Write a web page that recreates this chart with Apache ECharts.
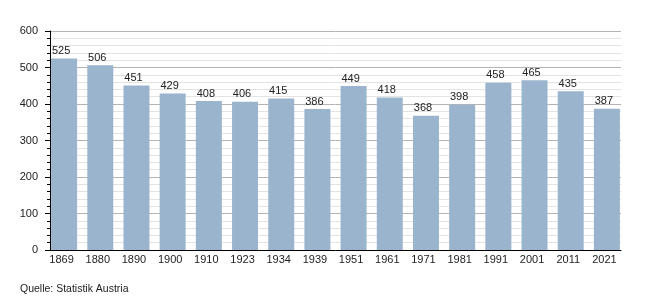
<!DOCTYPE html>
<html><head><meta charset="utf-8">
<script src="https://cdn.jsdelivr.net/npm/echarts@6/dist/echarts.min.js"></script>
<style>html,body{margin:0;padding:0;background:#fff}#c{width:650px;height:300px}</style>
</head><body><div id="c"></div>
<script>
const years = ['1869','1880','1890','1900','1910','1923','1934','1939','1951','1961','1971','1981','1991','2001','2011','2021'];
const values = [525,506,451,429,408,406,415,386,449,418,368,398,458,465,435,387];
const sourceText = 'Quelle: Statistik Austria';
const FONT = 'Liberation Sans, Arial, sans-serif';
const chart = echarts.init(document.getElementById('c'), null, {renderer:'canvas'});
chart.setOption({
  animation:false,
  textStyle:{fontFamily:FONT},
  grid:[
    {left:46,right:25,top:31,bottom:50},
    {left:50,right:29,top:31,bottom:50}
  ],
  graphic:[{type:'text',left:20,top:284,style:{text:sourceText,font:'10.5px '+FONT,fill:'#222'}}],
  xAxis:[
    {type:'category',data:years,gridIndex:0,
      axisLine:{show:false},axisTick:{show:false},
      axisLabel:{color:'#222',fontSize:11,margin:4,padding:[0,5,0,0]}},
    {type:'value',gridIndex:1,min:0,max:1,
      axisLine:{show:true,onZero:false,lineStyle:{color:'#000',width:1}},
      axisTick:{show:false},axisLabel:{show:false},splitLine:{show:false}}
  ],
  yAxis:[
    {type:'value',gridIndex:0,min:0,max:600,interval:100,
      axisLine:{show:false},axisTick:{show:false},axisLabel:{show:false},splitLine:{show:false}},
    {type:'value',gridIndex:1,min:0,max:600,interval:100,
      axisLine:{show:true,lineStyle:{color:'#000',width:1}},
      axisTick:{show:true,length:5,lineStyle:{color:'#000'}},
      minorTick:{show:true,splitNumber:5,length:3,lineStyle:{color:'#000'}},
      splitLine:{lineStyle:{color:'#b4b4b4'}},
      minorSplitLine:{show:true,lineStyle:{color:'#e3e3e3'}},
      axisLabel:{color:'#222',fontSize:11,margin:12}}
  ],
  series:[{type:'bar',xAxisIndex:0,yAxisIndex:0,data:values,barWidth:26,z:5,
    itemStyle:{color:'#9bb4cd'},
    label:{show:true,position:'top',color:'#222',fontSize:11,distance:2,offset:[-3,0]}}]
});
</script></body></html>
